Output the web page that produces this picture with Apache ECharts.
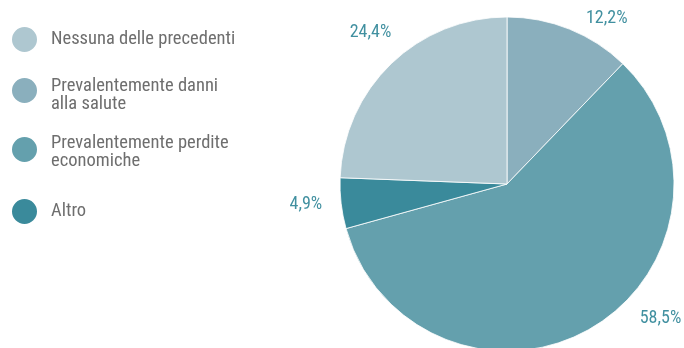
<!DOCTYPE html>
<html>
<head>
<meta charset="utf-8">
<script src="https://cdn.jsdelivr.net/npm/echarts@6/dist/echarts.min.js"></script>
<style>
  html, body { margin: 0; padding: 0; background: #ffffff; }
  #chart { width: 684px; height: 348px; }
</style>
</head>
<body>
<div id="chart"></div>
<script>
// Slices, clockwise from twelve o'clock
const categories = [
  'Prevalentemente danni\nalla salute',
  'Prevalentemente perdite\neconomiche',
  'Altro',
  'Nessuna delle precedenti'
];
const values = [12.2, 58.5, 4.9, 24.4];

// Order of the entries in the key
const legendOrder = [
  'Nessuna delle precedenti',
  'Prevalentemente danni\nalla salute',
  'Prevalentemente perdite\neconomiche',
  'Altro'
];

const FONT = "'Roboto Condensed', 'Roboto', 'Liberation Sans Narrow', sans-serif";
const palette = ['#8aafbd', '#64a0ad', '#3a8a9b', '#aec7d0'];
const labelOffsets = [[4, 8], [32, -26], [6, -1], [19, -17]];

// Key rows: top edge and height of a blank spacer line placed above the
// text, which keeps the dot level with the first line of two-line entries
const legendRows = [
  { top: 25,  spacer: 0 },
  { top: 72,  spacer: 9 },
  { top: 131, spacer: 5 },
  { top: 197, spacer: 0 }
];

const fmt = v => v.toFixed(1).replace('.', ',') + '%';

const chart = echarts.init(document.getElementById('chart'), null, { renderer: 'canvas' });

const textBase = { fontFamily: FONT, fontSize: 18.5, color: '#6e6e6e' };

const legends = legendOrder.map((name, i) => {
  const sp = legendRows[i].spacer;
  return {
    show: true,
    orient: 'vertical',
    left: 10,
    top: legendRows[i].top,
    padding: 0,
    itemWidth: 27,
    itemHeight: 27,
    icon: 'circle',
    selectedMode: false,
    data: [name],
    formatter: n => (sp ? '{s| }\n' : '') +
      n.split('\n').map(s => '{l|' + s + '}').join('\n'),
    textStyle: Object.assign({}, textBase, {
      padding: [0, 0, 0, 8],
      rich: {
        s: { fontSize: 1, lineHeight: sp || 1 },
        l: Object.assign({}, textBase, { lineHeight: 18 })
      }
    })
  };
});

chart.setOption({
  animation: false,
  backgroundColor: '#ffffff',
  legend: legends,
  series: [{
    type: 'pie',
    center: [507, 184],
    radius: [0, 167],
    startAngle: 90,
    clockwise: true,
    avoidLabelOverlap: false,
    itemStyle: { borderColor: '#ffffff', borderWidth: 0.8 },
    label: {
      show: true,
      position: 'outside',
      fontFamily: FONT,
      fontSize: 18,
      color: '#4190a0',
      formatter: p => fmt(p.value)
    },
    labelLine: { show: false, length: 20, length2: 0 },
    emphasis: { disabled: true },
    data: categories.map((name, i) => ({
      name: name,
      value: values[i],
      itemStyle: { color: palette[i] },
      label: { offset: labelOffsets[i] }
    }))
  }]
});
</script>
</body>
</html>
